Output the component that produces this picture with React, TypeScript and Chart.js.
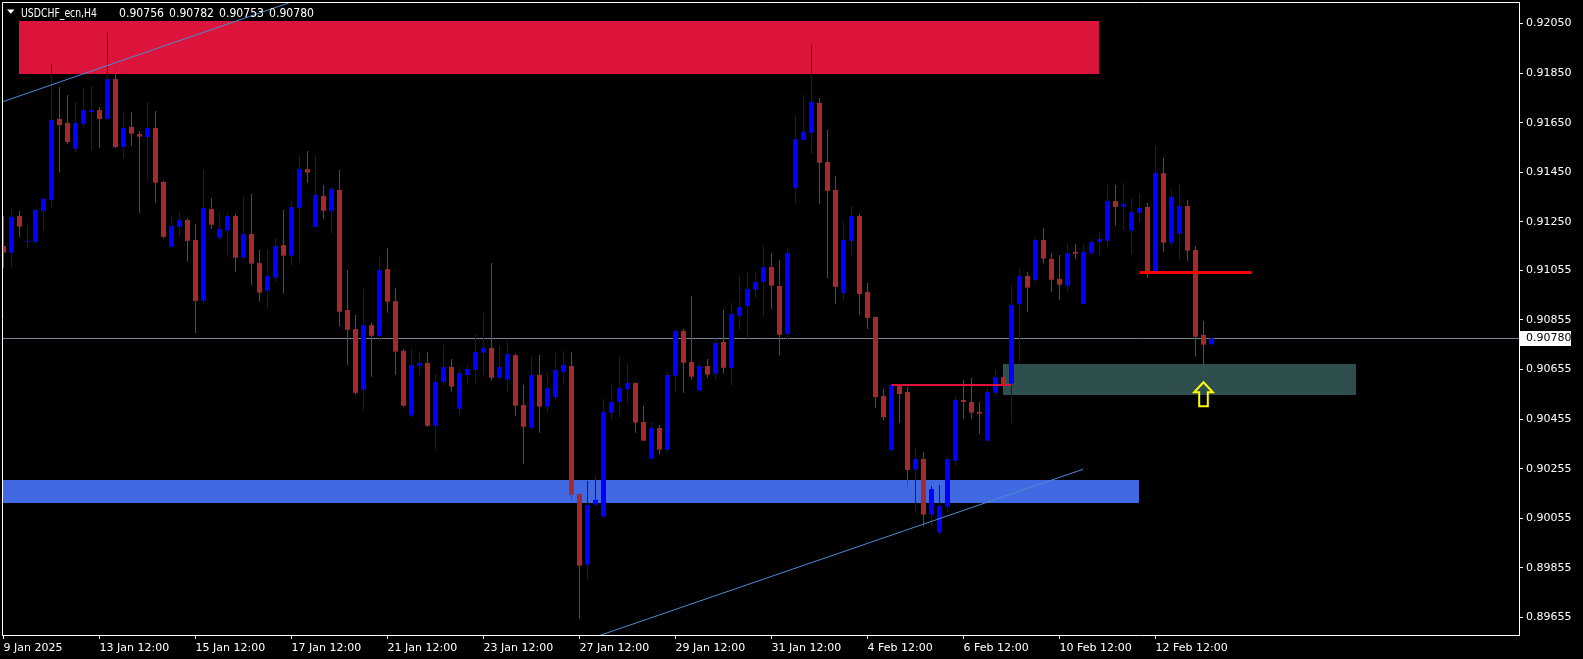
import React, { useEffect, useRef } from 'react';
import { Chart, registerables } from 'chart.js';

Chart.register(...registerables);

// ---- Candle data (USDCHF_ecn, H4) ----
const openP = [
  0.91153, 0.91126, 0.91274, 0.91169, 0.91169, 0.91295, 0.91338, 0.91665, 0.91649, 0.91545,
  0.91645, 0.91693, 0.91701, 0.91665, 0.91826, 0.91552, 0.91633, 0.91604, 0.91592, 0.91629,
  0.91411, 0.91150, 0.91230, 0.91258, 0.91177, 0.90932, 0.91302, 0.91186, 0.91215, 0.91274,
  0.91106, 0.91201, 0.91084, 0.90973, 0.91025, 0.91157, 0.91114, 0.91307, 0.91463, 0.91230,
  0.91355, 0.91295, 0.91379, 0.90895, 0.90818, 0.90574, 0.90834, 0.90791, 0.91060, 0.90931,
  0.90730, 0.90469, 0.90670, 0.90681, 0.90428, 0.90606, 0.90665, 0.90497, 0.90633, 0.90654,
  0.90723, 0.90742, 0.90622, 0.90614, 0.90713, 0.90512, 0.90420, 0.90633, 0.90505, 0.90543,
  0.90646, 0.90669, 0.90153, 0.89868, 0.90110, 0.90062, 0.90481, 0.90525, 0.90576, 0.90601,
  0.90443, 0.90295, 0.90419, 0.90332, 0.90630, 0.90810, 0.90685, 0.90570, 0.90669, 0.90638,
  0.90766, 0.90662, 0.90872, 0.90912, 0.90977, 0.91009, 0.91068, 0.90992, 0.90798, 0.91387,
  0.91580, 0.91609, 0.91730, 0.91492, 0.91379, 0.90963, 0.91173, 0.91274, 0.90968, 0.90867,
  0.90548, 0.90330, 0.90593, 0.90564, 0.90251, 0.90294, 0.90070, 0.89998, 0.90102, 0.90287,
  0.90532, 0.90524, 0.90484, 0.90368, 0.90561, 0.90624, 0.90598, 0.90920, 0.91032, 0.91017,
  0.91177, 0.91101, 0.91020, 0.90993, 0.91129, 0.90920, 0.91124, 0.91170, 0.91174, 0.91334,
  0.91311, 0.91215, 0.91287, 0.91310, 0.91049, 0.91447, 0.91166, 0.91203, 0.91314, 0.91137,
  0.90794, 0.90756,
];
const highP = [
  0.91274, 0.91302, 0.91294, 0.91242, 0.91302, 0.91344, 0.91887, 0.91794, 0.91762, 0.91734,
  0.91790, 0.91798, 0.91713, 0.92012, 0.91911, 0.91689, 0.91693, 0.91617, 0.91734, 0.91697,
  0.91415, 0.91275, 0.91291, 0.91266, 0.91242, 0.91459, 0.91346, 0.91286, 0.91286, 0.91282,
  0.91355, 0.91363, 0.91137, 0.91137, 0.91185, 0.91298, 0.91334, 0.91520, 0.91536, 0.91520,
  0.91399, 0.91391, 0.91459, 0.91056, 0.90875, 0.90980, 0.90843, 0.91109, 0.91145, 0.90984,
  0.90738, 0.90738, 0.90726, 0.90726, 0.90637, 0.90754, 0.90697, 0.90657, 0.90673, 0.90798,
  0.90883, 0.91084, 0.90750, 0.90770, 0.90718, 0.90593, 0.90709, 0.90713, 0.90641, 0.90722,
  0.90730, 0.90726, 0.90153, 0.90205, 0.90230, 0.90536, 0.90593, 0.90709, 0.90681, 0.90601,
  0.90508, 0.90443, 0.90431, 0.90645, 0.90814, 0.90818, 0.90951, 0.90681, 0.90697, 0.90780,
  0.90895, 0.90923, 0.91036, 0.91048, 0.91044, 0.91157, 0.91124, 0.91097, 0.91145, 0.91681,
  0.91762, 0.91963, 0.91750, 0.91621, 0.91435, 0.91254, 0.91314, 0.91282, 0.91004, 0.90867,
  0.90576, 0.90593, 0.90593, 0.90584, 0.90338, 0.90322, 0.90185, 0.90189, 0.90302, 0.90548,
  0.90613, 0.90621, 0.90524, 0.90584, 0.90653, 0.90677, 0.90996, 0.91064, 0.91048, 0.91189,
  0.91226, 0.91124, 0.91117, 0.91165, 0.91161, 0.91161, 0.91181, 0.91209, 0.91399, 0.91399,
  0.91407, 0.91346, 0.91363, 0.91326, 0.91556, 0.91508, 0.91383, 0.91403, 0.91338, 0.91153,
  0.90851, 0.90782,
];
const lowP = [
  0.91065, 0.91065, 0.91190, 0.91142, 0.91161, 0.91218, 0.91303, 0.91449, 0.91564, 0.91532,
  0.91626, 0.91540, 0.91548, 0.91661, 0.91548, 0.91508, 0.91557, 0.91287, 0.91420, 0.91328,
  0.91186, 0.91146, 0.91190, 0.91090, 0.90802, 0.90916, 0.91223, 0.91174, 0.91118, 0.91049,
  0.91102, 0.90997, 0.90928, 0.90900, 0.91009, 0.90961, 0.91074, 0.91086, 0.91408, 0.91230,
  0.91263, 0.91203, 0.90828, 0.90674, 0.90553, 0.90489, 0.90626, 0.90770, 0.90884, 0.90634,
  0.90505, 0.90461, 0.90634, 0.90424, 0.90328, 0.90590, 0.90566, 0.90469, 0.90602, 0.90602,
  0.90634, 0.90610, 0.90614, 0.90561, 0.90469, 0.90275, 0.90416, 0.90400, 0.90481, 0.90531,
  0.90594, 0.90130, 0.89650, 0.89807, 0.90102, 0.90062, 0.90453, 0.90461, 0.90517, 0.90400,
  0.90368, 0.90295, 0.90312, 0.90320, 0.90561, 0.90561, 0.90614, 0.90570, 0.90622, 0.90614,
  0.90638, 0.90590, 0.90815, 0.90780, 0.90944, 0.90868, 0.90900, 0.90711, 0.90778, 0.91322,
  0.91580, 0.91524, 0.91322, 0.91024, 0.90919, 0.90931, 0.91117, 0.90875, 0.90818, 0.90500,
  0.90451, 0.90330, 0.90439, 0.90181, 0.90078, 0.90021, 0.90021, 0.89988, 0.90078, 0.90267,
  0.90455, 0.90455, 0.90396, 0.90364, 0.90549, 0.90553, 0.90436, 0.90682, 0.90888, 0.91005,
  0.91082, 0.90969, 0.90936, 0.90969, 0.91102, 0.90916, 0.91118, 0.91110, 0.91149, 0.91235,
  0.91219, 0.91122, 0.91251, 0.91025, 0.91037, 0.91130, 0.91154, 0.91098, 0.91094, 0.90707,
  0.90650, 0.90753,
];
const closeP = [
  0.91126, 0.91270, 0.91231, 0.91173, 0.91298, 0.91344, 0.91661, 0.91641, 0.91572, 0.91649,
  0.91701, 0.91701, 0.91665, 0.91826, 0.91552, 0.91629, 0.91606, 0.91594, 0.91629, 0.91408,
  0.91190, 0.91234, 0.91258, 0.91174, 0.90932, 0.91306, 0.91239, 0.91222, 0.91274, 0.91106,
  0.91201, 0.91082, 0.90965, 0.91032, 0.91153, 0.91114, 0.91310, 0.91463, 0.91449, 0.91359,
  0.91295, 0.91383, 0.90888, 0.90815, 0.90561, 0.90834, 0.90791, 0.91056, 0.90928, 0.90727,
  0.90509, 0.90673, 0.90681, 0.90428, 0.90605, 0.90665, 0.90586, 0.90641, 0.90657, 0.90726,
  0.90742, 0.90622, 0.90665, 0.90718, 0.90509, 0.90424, 0.90633, 0.90505, 0.90580, 0.90653,
  0.90673, 0.90150, 0.89864, 0.90109, 0.90129, 0.90484, 0.90524, 0.90580, 0.90601, 0.90441,
  0.90368, 0.90419, 0.90332, 0.90633, 0.90810, 0.90682, 0.90626, 0.90669, 0.90634, 0.90762,
  0.90662, 0.90879, 0.90907, 0.90980, 0.91008, 0.91068, 0.90993, 0.90795, 0.91124, 0.91584,
  0.91613, 0.91734, 0.91488, 0.91375, 0.90988, 0.91177, 0.91274, 0.90959, 0.90863, 0.90544,
  0.90463, 0.90593, 0.90556, 0.90250, 0.90294, 0.90070, 0.90173, 0.90105, 0.90294, 0.90532,
  0.90524, 0.90481, 0.90477, 0.90564, 0.90624, 0.90594, 0.90915, 0.91032, 0.90985, 0.91177,
  0.91102, 0.91017, 0.90997, 0.91124, 0.91122, 0.91129, 0.91169, 0.91181, 0.91334, 0.91311,
  0.91322, 0.91290, 0.91306, 0.91049, 0.91447, 0.91166, 0.91351, 0.91314, 0.91134, 0.90787,
  0.90755, 0.90780,
];

// ---- Axis ticks ----
const xTickIndex = [0, 12, 24, 36, 48, 60, 72, 84, 96, 108, 120, 132, 144];
const xTickLabels = [
  '9 Jan 2025', '13 Jan 12:00', '15 Jan 12:00', '17 Jan 12:00', '21 Jan 12:00', '23 Jan 12:00',
  '27 Jan 12:00', '29 Jan 12:00', '31 Jan 12:00', '4 Feb 12:00', '6 Feb 12:00', '10 Feb 12:00', '12 Feb 12:00',
];
const yTickValues = [
  0.92050, 0.91850, 0.91650, 0.91450, 0.91250, 0.91055, 0.90855, 0.90655, 0.90455, 0.90255,
  0.90055, 0.89855, 0.89655,
];

// ---- Visible range ----
const xRange = [-0.1875, 189.4375];
const yRange = [0.8958443, 0.9213685];

// ---- Objects drawn on the chart (bar index / price) ----
const supplyZone = { from: 1.94, to: 136.9, top: 0.92061, bottom: 0.918465 };
const demandZone = { from: -1, to: 141.95, top: 0.902095, bottom: 0.901179 };
const targetZone = { from: 125, to: 169, top: 0.906772, bottom: 0.905534 };
const trendUpper = { x1: -0.2, p1: 0.917336, x2: 36, p2: 0.92137 };
const trendLower = { x1: 74, p1: 0.895768, x2: 134.94, p2: 0.902526 };
const levelThin = { from: 111, to: 126, price: 0.905925 };
const levelThick = { from: 142, to: 156, price: 0.91046 };
const arrowMark = { index: 150, price: 0.906034 };
const lastQuote = { symbol: 'USDCHF_ecn,H4', open: 0.90756, high: 0.90782, low: 0.90753, close: 0.90780 };

const BULL = '#0000FF';
const BEAR = '#A52A2A';
const FONT = '11px "DejaVu Sans"';
const TITLE_FONT = '12px "DejaVu Sans"';

export default function App() {
  const ref = useRef<HTMLCanvasElement>(null);

  useEffect(() => {
    const canvas = ref.current;
    if (!canvas) return;
    Chart.defaults.font.family = 'DejaVu Sans';
    Chart.defaults.font.size = 11;
    Chart.defaults.color = '#FFFFFF';

    const colors = openP.map((o, i) => (closeP[i] >= o ? BULL : BEAR));
    const wickData = openP.map((_, i) => ({ x: i, y: [lowP[i], highP[i]] }));
    const bodyData = openP.map((o, i) => ({ x: i, y: [o, closeP[i]] }));

    const overlay = {
      id: 'overlay',
      beforeDraw(chart: any) {
        const { ctx, width, height } = chart;
        ctx.save();
        ctx.fillStyle = '#000000';
        ctx.fillRect(0, 0, width, height);
        ctx.restore();
      },
      beforeDatasetsDraw(chart: any) {
        const { ctx, chartArea: a } = chart;
        const xs = chart.scales.x;
        const ys = chart.scales.y;
        ctx.save();
        ctx.beginPath();
        ctx.rect(a.left, a.top, a.right - a.left, a.bottom - a.top);
        ctx.clip();
        const zones: [any, string][] = [
          [supplyZone, '#DC143C'],
          [demandZone, '#4169E1'],
          [targetZone, '#2F4F4F'],
        ];
        for (const [z, c] of zones) {
          const x1 = Math.round(xs.getPixelForValue(z.from));
          const x2 = Math.round(xs.getPixelForValue(z.to));
          const y1 = Math.round(ys.getPixelForValue(z.top));
          const y2 = Math.round(ys.getPixelForValue(z.bottom));
          ctx.fillStyle = c;
          ctx.fillRect(x1, y1, x2 - x1, y2 - y1);
        }
        // current price line
        const py = Math.floor(ys.getPixelForValue(lastQuote.close)) + 0.5;
        ctx.strokeStyle = '#778899';
        ctx.lineWidth = 1;
        ctx.beginPath();
        ctx.moveTo(a.left, py);
        ctx.lineTo(a.right, py);
        ctx.stroke();
        ctx.restore();
      },
      afterDatasetsDraw(chart: any) {
        const { ctx, chartArea: a } = chart;
        const xs = chart.scales.x;
        const ys = chart.scales.y;
        ctx.save();
        ctx.beginPath();
        ctx.rect(a.left, a.top, a.right - a.left, a.bottom - a.top);
        ctx.clip();
        // trend lines
        ctx.strokeStyle = '#4A8CD0';
        ctx.lineWidth = 1;
        for (const t of [trendUpper, trendLower]) {
          ctx.beginPath();
          ctx.moveTo(xs.getPixelForValue(t.x1), ys.getPixelForValue(t.p1));
          ctx.lineTo(xs.getPixelForValue(t.x2), ys.getPixelForValue(t.p2));
          ctx.stroke();
        }
        // horizontal levels
        const ly1 = ys.getPixelForValue(levelThin.price);
        ctx.strokeStyle = '#DC143C';
        ctx.lineWidth = 2;
        ctx.beginPath();
        ctx.moveTo(xs.getPixelForValue(levelThin.from), Math.round(ly1));
        ctx.lineTo(xs.getPixelForValue(levelThin.to), Math.round(ly1));
        ctx.stroke();
        const ly2 = ys.getPixelForValue(levelThick.price);
        ctx.strokeStyle = '#FF0000';
        ctx.lineWidth = 3;
        ctx.beginPath();
        ctx.moveTo(xs.getPixelForValue(levelThick.from), Math.floor(ly2) + 0.5);
        ctx.lineTo(xs.getPixelForValue(levelThick.to), Math.floor(ly2) + 0.5);
        ctx.stroke();
        // yellow up arrow
        const ax = xs.getPixelForValue(arrowMark.index);
        const ay = ys.getPixelForValue(arrowMark.price);
        ctx.strokeStyle = '#FFFF00';
        ctx.lineWidth = 2;
        ctx.lineJoin = 'miter';
        ctx.beginPath();
        ctx.moveTo(ax, ay);
        ctx.lineTo(ax + 9.3, ay + 10);
        ctx.lineTo(ax + 4.3, ay + 10);
        ctx.lineTo(ax + 4.3, ay + 24);
        ctx.lineTo(ax - 4.3, ay + 24);
        ctx.lineTo(ax - 4.3, ay + 10);
        ctx.lineTo(ax - 9.3, ay + 10);
        ctx.closePath();
        ctx.stroke();
        ctx.restore();
      },
      afterDraw(chart: any) {
        const { ctx, chartArea: a } = chart;
        const ys = chart.scales.y;
        ctx.save();
        // frame left/top
        ctx.strokeStyle = '#FFFFFF';
        ctx.lineWidth = 1;
        ctx.beginPath();
        ctx.moveTo(a.left + 0.5, a.bottom + 1);
        ctx.lineTo(a.left + 0.5, a.top + 0.5);
        ctx.lineTo(a.right + 1, a.top + 0.5);
        ctx.stroke();
        // title
        ctx.fillStyle = '#FFFFFF';
        ctx.beginPath();
        ctx.moveTo(7, 9.5);
        ctx.lineTo(14.5, 9.5);
        ctx.lineTo(10.75, 13.8);
        ctx.closePath();
        ctx.fill();
        ctx.font = TITLE_FONT;
        ctx.textBaseline = 'alphabetic';
        ctx.textAlign = 'left';
        ctx.fillText(lastQuote.symbol, 21, 16.5, 76);
        const vals = [lastQuote.open, lastQuote.high, lastQuote.low, lastQuote.close];
        vals.forEach((v, i) => ctx.fillText(v.toFixed(5), 119 + i * 50, 16.5, 45));
        // current price label
        ctx.font = FONT;
        const py = Math.floor(ys.getPixelForValue(lastQuote.close)) + 0.5;
        ctx.fillStyle = '#FFFFFF';
        ctx.fillRect(a.right + 1, Math.round(py - 7.5), 51, 15);
        ctx.fillStyle = '#000000';
        ctx.textBaseline = 'middle';
        ctx.fillText(lastQuote.close.toFixed(5), a.right + 7, py);
        ctx.restore();
      },
    };

    const chart = new Chart(canvas, {
      type: 'bar',
      data: {
        datasets: [
          {
            label: 'wick',
            data: wickData as any,
            backgroundColor: colors,
            barThickness: 1,
            grouped: false,
            borderWidth: 0,
            inflateAmount: 0,
            order: 2,
          } as any,
          {
            label: 'body',
            data: bodyData as any,
            backgroundColor: colors,
            barThickness: 5,
            grouped: false,
            borderWidth: 0,
            inflateAmount: 0,
            minBarLength: 1,
            order: 1,
          } as any,
        ],
      },
      options: {
        animation: false,
        responsive: false,
        devicePixelRatio: 1,
        events: [],
        layout: { padding: { left: 2, top: 2, right: 0, bottom: 0 }, autoPadding: false } as any,
        plugins: {
          legend: { display: false },
          tooltip: { enabled: false },
        },
        scales: {
          x: {
            type: 'linear',
            min: xRange[0],
            max: xRange[1],
            offset: false,
            afterFit: (s: any) => {
              s.height = 24;
              s.paddingLeft = 0; s.paddingRight = 0; s.paddingTop = 0; s.paddingBottom = 0;
            },
            afterBuildTicks: (s: any) => { s.ticks = xTickIndex.map((v) => ({ value: v })); },
            ticks: {
              color: '#FFFFFF',
              font: { family: 'DejaVu Sans', size: 11 },
              align: 'start',
              autoSkip: false,
              maxRotation: 0,
              minRotation: 0,
              padding: 3,
              callback: (_v: any, i: number) => xTickLabels[i] ?? '',
            },
            grid: { display: true, drawOnChartArea: false, drawTicks: true, tickLength: 4, color: '#FFFFFF', offset: false },
            border: { display: true, color: '#FFFFFF' },
          } as any,
          y: {
            type: 'linear',
            position: 'right',
            min: yRange[0],
            max: yRange[1],
            afterFit: (s: any) => {
              s.width = 64;
              s.paddingLeft = 0; s.paddingRight = 0; s.paddingTop = 0; s.paddingBottom = 0;
            },
            afterBuildTicks: (s: any) => { s.ticks = yTickValues.map((v) => ({ value: v })); },
            ticks: {
              color: '#FFFFFF',
              font: { family: 'DejaVu Sans', size: 11 },
              autoSkip: false,
              padding: 3,
              callback: (v: any) => Number(v).toFixed(5),
            },
            grid: { display: true, drawOnChartArea: false, drawTicks: true, tickLength: 4, color: '#FFFFFF' },
            border: { display: true, color: '#FFFFFF' },
          } as any,
        },
      },
      plugins: [overlay],
    });

    return () => chart.destroy();
  }, []);

  return (
    <div style={{ position: 'fixed', left: 0, top: 0, width: 1583, height: 659, background: '#000' }}>
      <canvas ref={ref} width={1583} height={659} style={{ display: 'block', width: 1583, height: 659 }} />
    </div>
  );
}
